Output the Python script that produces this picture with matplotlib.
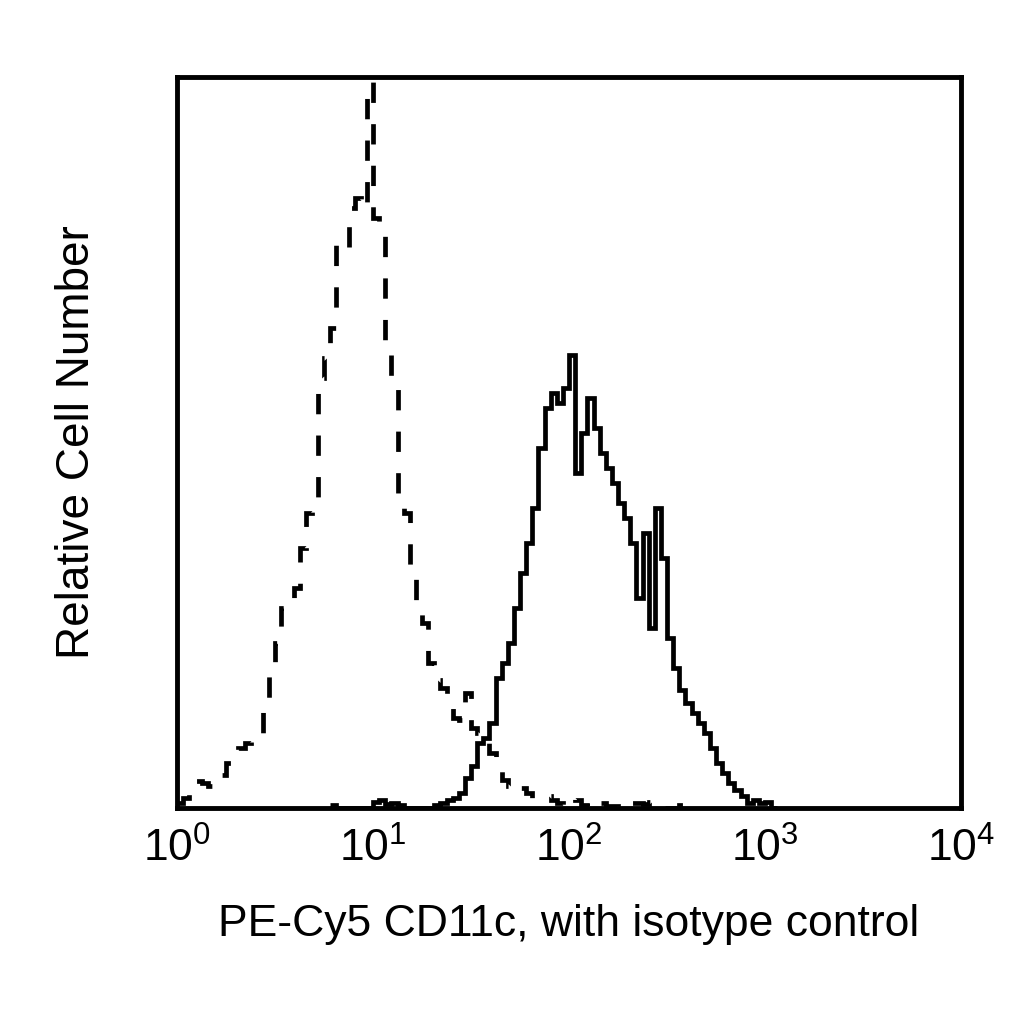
import numpy as np
import matplotlib
matplotlib.use("Agg")
import matplotlib.pyplot as plt
import matplotlib.ticker as ticker

# log channels: 32 per decade over 4 decades (10^0 .. 10^4)
n_per_decade = 32
decades = 4

# isotype control (dashed), channels 0..82
iso_start = 0
iso_counts = [5, 10, 25, 27, 25, 22, 28, 33, 45, 55,
              60, 65, 70, 75, 110, 140, 165, 200, 210, 220,
              260, 295, 300, 430, 450, 480, 565, 560, 600, 610,
              600, 900, 590, 575, 465, 425, 310, 295, 240, 205,
              185, 145, 128, 120, 110, 90, 88, 115, 80, 75,
              68, 55, 38, 28, 22, 25, 20, 15, 10, 10,
              12, 8, 5, 3, 10, 8, 3, 2, 8, 5,
              2, 2, 0, 3, 5, 5, 4, 6, 2, 0,
              0, 0, 3]

# PE-Cy5 CD11c stained (solid), channels 25..97
cd11c_start = 25
cd11c_counts = [3, 0, 0, 0, 0, 0, 0, 6, 8, 4,
                5, 3, 0, 0, 0, 0, 0, 3, 5, 8,
                10, 15, 30, 42, 65, 70, 85, 130, 145, 165,
                200, 235, 265, 300, 360, 400, 415, 405, 420, 453,
                335, 375, 410, 380, 355, 340, 325, 305, 290, 265,
                210, 275, 180, 300, 250, 170, 140, 118, 105, 95,
                85, 75, 60, 45, 35, 25, 18, 12, 5, 8,
                5, 6, 0]

tick_vals = [1, 10, 100, 1000, 10000]
ymax = 731

plt.rcParams["font.family"] = ["Liberation Sans", "DejaVu Sans"]
plt.rcParams["mathtext.default"] = "regular"

edges = 10 ** (np.arange(n_per_decade * decades + 1) / n_per_decade)

def channel_edges(start, counts):
    return edges[start:start + len(counts) + 1]

fig = plt.figure(figsize=(10.24, 10.24), dpi=100)
ax = fig.add_axes([0.173, 0.211, 0.7655, 0.714])

# dashed = isotype control, solid = stained sample
ax.stairs(iso_counts, channel_edges(iso_start, iso_counts), baseline=None,
          color="black", linewidth=3.4, linestyle=(0, (4.3, 4.5)))
ax.stairs(cd11c_counts, channel_edges(cd11c_start, cd11c_counts), baseline=None,
          color="black", linewidth=3.4)

ax.set_xscale("log")
ax.set_xlim(1, 1e4)
ax.set_ylim(0, ymax)
ax.set_xticks(tick_vals)
ax.xaxis.set_major_formatter(ticker.LogFormatterSciNotation())
ax.xaxis.set_minor_locator(ticker.NullLocator())
ax.set_yticks([])
ax.tick_params(axis="x", length=0, pad=14, labelsize=32)

for s in ax.spines.values():
    s.set_linewidth(3.5)

ax.set_xlabel("PE-Cy5 CD11c, with isotype control", fontsize=32, labelpad=24)
ax.set_ylabel("Relative Cell Number", fontsize=33, labelpad=56)

fig.savefig("out.png", dpi=100)
